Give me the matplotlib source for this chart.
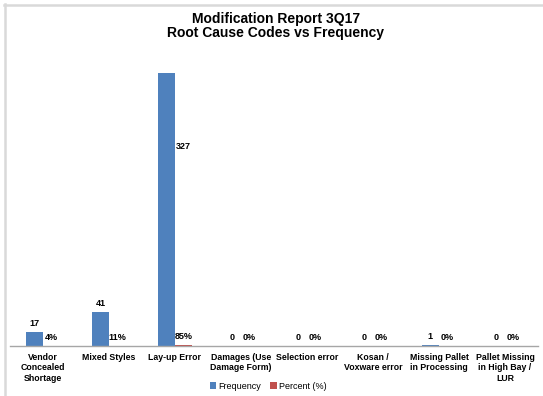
import numpy as np
import matplotlib
matplotlib.use("Agg")
import matplotlib.pyplot as plt
from matplotlib.lines import Line2D

plt.rcParams['font.family'] = ['Liberation Sans', 'DejaVu Sans']

categories = ["Vendor\nConcealed\nShortage", "Mixed Styles", "Lay-up Error",
              "Damages (Use\nDamage Form)", "Selection error", "Kosan /\nVoxware error",
              "Missing Pallet\nin Processing", "Pallet Missing\nin High Bay /\nLUR"]
frequency = [17, 41, 327, 0, 0, 0, 1, 0]
percent = [0.04, 0.11, 0.85, 0.0, 0.0, 0.0, 0.0, 0.0]
percent_labels = ["4%", "11%", "85%", "0%", "0%", "0%", "0%", "0%"]

BLUE = "#4F81BD"
RED = "#C0504D"

fig = plt.figure(figsize=(5.43, 3.96), dpi=100)
ax = fig.add_axes([10/543, 50/396, 528/543, 292/396])

x = np.arange(len(categories))
w = 0.26
ax.bar(x - w/2, frequency, w, color=BLUE, label="Frequency")
ax.bar(x + w/2, percent, w, color=RED, label="Percent (%)")

ax.set_xlim(-0.5, len(categories) - 0.5)
ax.set_ylim(0, 350)

# data labels
for i in range(len(categories)):
    if frequency[i] > 200:
        # big bar label sits beside the bar
        ax.text(x[i] + w/2, frequency[i] * 0.73, str(frequency[i]), ha="center", va="center",
                fontsize=6.5, fontweight="bold")
    else:
        ax.annotate(str(frequency[i]), (x[i] - w/2, frequency[i]), xytext=(0, 3),
                    textcoords="offset points", ha="center", va="bottom",
                    fontsize=6.5, fontweight="bold")
    ax.annotate(percent_labels[i], (x[i] + w/2, percent[i]), xytext=(0, 3),
                textcoords="offset points", ha="center", va="bottom",
                fontsize=6.5, fontweight="bold")

ax.set_xticks(x)
ax.set_xticklabels(categories, fontsize=6.3, fontweight="bold", linespacing=1.2)
ax.tick_params(axis="x", length=0, pad=5)
ax.set_yticks([])
for s in ["top", "right", "left"]:
    ax.spines[s].set_visible(False)
ax.spines["bottom"].set_color("#a6a6a6")
ax.spines["bottom"].set_linewidth(1)

fig.text(0.508, 1 - 12/396, "Modification Report 3Q17\nRoot Cause Codes vs Frequency",
         ha="center", va="top", fontsize=10, fontweight="bold", linespacing=1.0)

fig.legend(loc="center", bbox_to_anchor=(0.494, 0.025), ncol=2, frameon=False,
           fontsize=6.5, handlelength=0.7, handleheight=0.7, handletextpad=0.3,
           columnspacing=1.0)

# gray frame on top and left
fig.add_artist(Line2D([4/543, 542/543], [1 - 4.5/396, 1 - 4.5/396], color="#d9d9d9", lw=1.8))
fig.add_artist(Line2D([4.5/543, 4.5/543], [0, 1 - 4/396], color="#d9d9d9", lw=1.8))

fig.savefig("out.png", dpi=100)
